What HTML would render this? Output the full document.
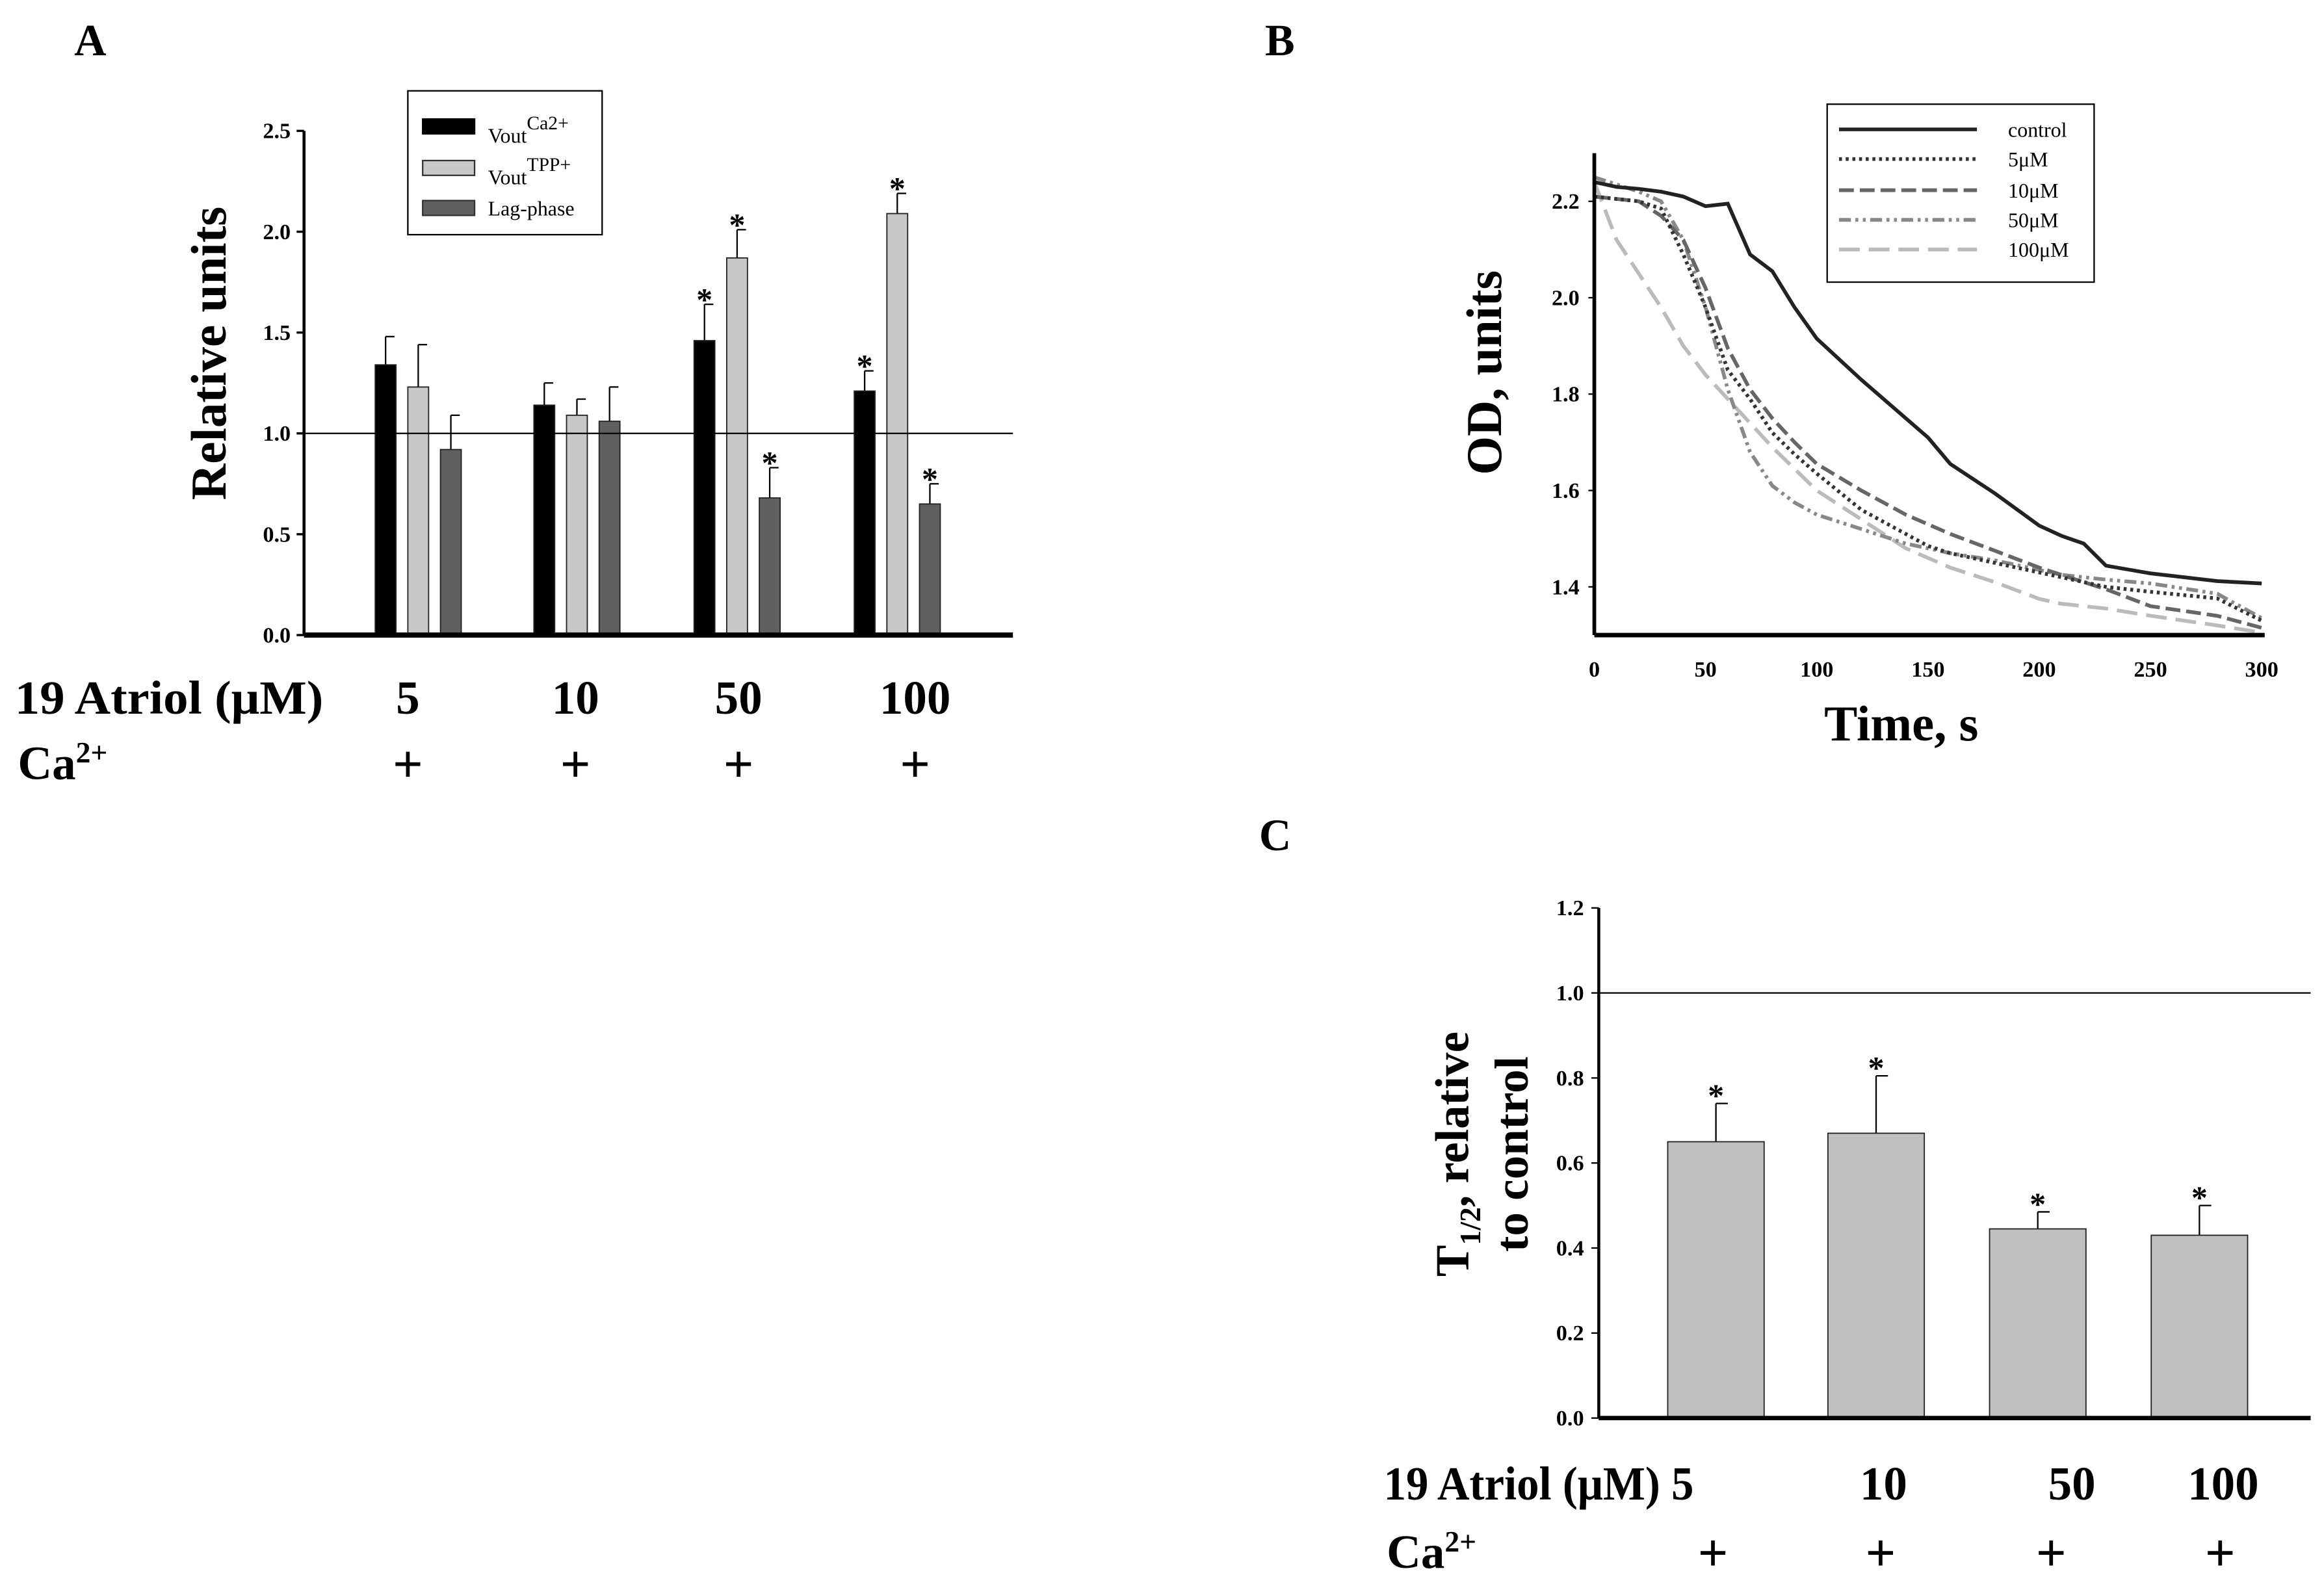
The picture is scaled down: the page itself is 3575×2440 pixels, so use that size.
<!DOCTYPE html>
<html><head><meta charset="utf-8"><style>
html,body{margin:0;padding:0;background:#fff}
svg{display:block;font-family:"Liberation Serif",serif}
</style></head><body>
<svg id="fig" width="3575" height="2440" viewBox="0 0 1567 1069" xmlns="http://www.w3.org/2000/svg">
<g id="A">
<text x="50" y="37" font-size="30" font-weight="bold">A</text>
<text transform="translate(152,238) rotate(-90)" text-anchor="middle" font-size="34" font-weight="bold" textLength="198" lengthAdjust="spacingAndGlyphs">Relative units</text>
<g id="aPlot"></g>
<g>
<rect x="275" y="61" width="131" height="97" fill="#fff" stroke="#000" stroke-width="1"/>
<rect x="285" y="80" width="35" height="10" fill="#000" stroke="#000"/>
<text x="329" y="96" font-size="14">Vout<tspan dy="-9" font-size="13">Ca2+</tspan></text>
<rect x="285" y="108" width="35" height="10" fill="#c8c8c8" stroke="#333"/>
<text x="329" y="124" font-size="14">Vout<tspan dy="-9" font-size="13">TPP+</tspan></text>
<rect x="285" y="135" width="35" height="10" fill="#606060" stroke="#333"/>
<text x="329" y="145" font-size="14">Lag-phase</text>
</g>
<g font-size="32" font-weight="bold">
<text x="10" y="481" textLength="208" lengthAdjust="spacingAndGlyphs">19 Atriol (μM)</text>
<text x="12" y="525">Ca<tspan dy="-11" font-size="20">2+</tspan></text>
</g>
</g>
<g id="B">
<text x="853" y="37" font-size="30" font-weight="bold">B</text>
<text transform="translate(1012,251) rotate(-90)" text-anchor="middle" font-size="34" font-weight="bold" textLength="138" lengthAdjust="spacingAndGlyphs">OD, units</text>
<text x="1282" y="499" text-anchor="middle" font-size="34" font-weight="bold" textLength="104" lengthAdjust="spacingAndGlyphs">Time, s</text>
<g id="bPlot"></g>
<g>
<rect x="1232" y="70" width="180" height="120" fill="#fff" stroke="#000"/>
<line x1="1240" x2="1333" y1="87" y2="87" stroke="#222" stroke-width="2.5"/>
<text x="1354" y="92" font-size="14">control</text>
<line x1="1240" x2="1333" y1="107" y2="107" stroke="#333" stroke-width="2.5" stroke-dasharray="2,2.5"/>
<text x="1354" y="112" font-size="14">5μM</text>
<line x1="1240" x2="1333" y1="128" y2="128" stroke="#666" stroke-width="2.5" stroke-dasharray="10,4"/>
<text x="1354" y="133" font-size="14">10μM</text>
<line x1="1240" x2="1333" y1="148" y2="148" stroke="#888" stroke-width="2.5" stroke-dasharray="8,3,2,3,2,3"/>
<text x="1354" y="153" font-size="14">50μM</text>
<line x1="1240" x2="1333" y1="168" y2="168" stroke="#bbb" stroke-width="2.5" stroke-dasharray="14,6"/>
<text x="1354" y="173" font-size="14">100μM</text>
</g>
</g>
<g id="C">
<text x="849" y="573" font-size="30" font-weight="bold">C</text>
<text transform="translate(990,778) rotate(-90)" text-anchor="middle" font-size="32" font-weight="bold">T<tspan dy="8" font-size="20">1/2</tspan><tspan dy="-8">, relative</tspan></text>
<text transform="translate(1030,778) rotate(-90)" text-anchor="middle" font-size="32" font-weight="bold">to control</text>
<g id="cPlot"></g>
<g font-size="32" font-weight="bold">
<text x="933" y="1011" textLength="209" lengthAdjust="spacingAndGlyphs">19 Atriol (μM) 5</text>
<text x="935" y="1057">Ca<tspan dy="-11" font-size="20">2+</tspan></text>
</g>
</g>
</svg>
<script>
const NS="http://www.w3.org/2000/svg";
// ---- Panel A data
const aCategories=["5","10","50","100"];
const aVoutCa=[1.34,1.14,1.46,1.21];
const aVoutCaErr=[0.14,0.11,0.18,0.10];
const aVoutTPP=[1.23,1.09,1.87,2.09];
const aVoutTPPErr=[0.21,0.08,0.14,0.10];
const aLag=[0.92,1.06,0.68,0.65];
const aLagErr=[0.17,0.17,0.15,0.10];
const aSigCa=[false,false,true,true];
const aSigTPP=[false,false,true,true];
const aSigLag=[false,false,true,true];
const aTicks=["0.0","0.5","1.0","1.5","2.0","2.5"];
// ---- Panel B data
const bTime=[0,10,20,30,40,50,60,70,80,90,100,120,140,150,160,180,200,210,220,230,250,280,300];
const bControl=[2.24,2.23,2.226,2.22,2.21,2.19,2.195,2.09,2.055,1.98,1.915,1.83,1.75,1.71,1.655,1.594,1.527,1.506,1.49,1.444,1.428,1.412,1.407];
const b5=[2.21,2.205,2.2,2.185,2.09,1.98,1.85,1.79,1.72,1.675,1.635,1.56,1.51,1.485,1.47,1.45,1.43,1.42,1.41,1.40,1.39,1.376,1.33];
const b10=[2.21,2.205,2.2,2.17,2.12,2.02,1.895,1.81,1.75,1.70,1.655,1.60,1.55,1.53,1.51,1.475,1.44,1.425,1.41,1.395,1.36,1.34,1.315];
const b50=[2.25,2.235,2.22,2.2,2.12,1.98,1.81,1.68,1.61,1.575,1.55,1.52,1.49,1.48,1.47,1.455,1.435,1.425,1.42,1.415,1.407,1.386,1.335];
const b100=[2.24,2.12,2.05,1.98,1.9,1.84,1.79,1.74,1.69,1.645,1.6,1.54,1.48,1.46,1.44,1.41,1.375,1.365,1.36,1.355,1.34,1.32,1.305];
const bXTicks=["0","50","100","150","200","250","300"];
const bYTicks=["1.4","1.6","1.8","2.0","2.2"];
// ---- Panel C data
const cCategories=["5","10","50","100"];
const cValues=[0.65,0.67,0.445,0.43];
const cErr=[0.09,0.135,0.04,0.07];
const cTicks=["0.0","0.2","0.4","0.6","0.8","1.0","1.2"];

function mk(tag,attrs,parent){const e=document.createElementNS(NS,tag);for(const k in attrs)e.setAttribute(k,attrs[k]);parent.appendChild(e);return e;}
function txt(parent,x,y,s,size,anchor){const t=mk("text",{x:x,y:y,"font-size":size,"font-weight":"bold","text-anchor":anchor},parent);t.textContent=s;return t;}

// ---- Panel A
(function(){
const g=document.getElementById("aPlot");
const x0=205,x1=683,yb=428,yt=88;
const ya=v=>yb-(v/2.5)*(yb-yt);
const groupX=[282,389,497,605];
const offs=[-22,0,22], bw=14;
const series=[[aVoutCa,aVoutCaErr,aSigCa,"#000","vout-ca"],[aVoutTPP,aVoutTPPErr,aSigTPP,"#c8c8c8","vout-tpp"],[aLag,aLagErr,aSigLag,"#606060","lag-phase"]];
aTicks.forEach(t=>{const y=ya(parseFloat(t));
 const l=mk("line",{x1:x0-5,x2:x0,y1:y,y2:y,stroke:"#000","stroke-width":1.5},g);
 
 
 const tt=txt(g,x0-9,y+5,t,15,"end");
 
 });
series.forEach((s,si)=>{s[0].forEach((v,i)=>{
 const cx=groupX[i]+offs[si];
 const ey=ya(v+s[1][i]);
 const el=mk("line",{x1:cx,x2:cx,y1:ey,y2:ya(v),stroke:"#000","stroke-width":1},g);
 
 
 const cap=mk("line",{x1:cx,x2:cx+6,y1:ey,y2:ey,stroke:"#000","stroke-width":1},g);
 
 
 const r=mk("rect",{x:cx-bw/2,y:ya(v),width:bw,height:yb-ya(v),fill:s[3],stroke:"#222","stroke-width":0.8},g);
 
 
 if(s[2][i]){const st=mk("text",{x:cx,y:ey+4,"font-size":22,"font-weight":"bold","text-anchor":"middle"},g);st.textContent="*";
 
 }
});});
const ref=mk("line",{x1:x0,x2:x1,y1:ya(1),y2:ya(1),stroke:"#000","stroke-width":1},g);


const ax=mk("line",{x1:x0,x2:x0,y1:yt,y2:yb,stroke:"#000","stroke-width":2},g);


const xa=mk("line",{x1:x0,x2:x1,y1:yb,y2:yb,stroke:"#000","stroke-width":3.5},g);


const lx=[275,388,498,617];
aCategories.forEach((c,i)=>{const t=txt(g,lx[i],481,c,32,"middle");
 
 
 const p=txt(g,lx[i],527,"+",36,"middle");
 
 });
})();

// ---- Panel B
(function(){
const g=document.getElementById("bPlot");
const x0=1075,x1=1527,yb=428,yt=103;
const xs=t=>x0+t/300*(1525-x0);
const ys=v=>yb-(v-1.3)/1.0*(yb-yt);
bXTicks.forEach(t=>{const x=xs(+t);const tt=txt(g,x,456,t,15,"middle");
 
 });
bYTicks.forEach(t=>{const y=ys(+t);
 const l=mk("line",{x1:x0-4,x2:x0,y1:y,y2:y,stroke:"#000"},g);
 
 
 const tt=txt(g,x0-10,y+5,t,15,"end");
 
 });
const lines=[[b100,"#bbb","14,6","line-100uM"],[b50,"#888","8,3,2,3,2,3","line-50uM"],[b10,"#666","10,4","line-10uM"],[b5,"#333","2,2.5","line-5uM"],[bControl,"#222","","line-control"]];
lines.forEach(L=>{const d=L[0].map((v,i)=>(i?"L":"M")+xs(bTime[i]).toFixed(1)+","+ys(v).toFixed(1)).join(" ");
 const p=mk("path",{d:d,fill:"none",stroke:L[1],"stroke-width":2.5,"stroke-dasharray":L[2]||"none"},g);
 
 });
const ay=mk("line",{x1:x0,x2:x0,y1:yt,y2:yb,stroke:"#000","stroke-width":2.5},g);


const axx=mk("line",{x1:x0,x2:x1,y1:yb,y2:yb,stroke:"#000","stroke-width":3},g);


})();

// ---- Panel C
(function(){
const g=document.getElementById("cPlot");
const x0=1078,x1=1558,yb=956,yt=612;
const ys=v=>yb-v/1.2*(yb-yt);
const centers=[1157,1265,1374,1483], bw=65;
cTicks.forEach(t=>{const y=ys(+t);
 const l=mk("line",{x1:x0-5,x2:x0,y1:y,y2:y,stroke:"#000"},g);
 
 
 const tt=txt(g,x0-10,y+5,t,15,"end");
 
 });
cValues.forEach((v,i)=>{const cx=centers[i];const ey=ys(v+cErr[i]);
 const el=mk("line",{x1:cx,x2:cx,y1:ey,y2:ys(v),stroke:"#000"},g);
 
 
 const cap=mk("line",{x1:cx,x2:cx+8,y1:ey,y2:ey,stroke:"#000"},g);
 
 
 const r=mk("rect",{x:cx-bw/2,y:ys(v),width:bw,height:yb-ys(v),fill:"#c0c0c0",stroke:"#222","stroke-width":0.8},g);
 
 
 const st=mk("text",{x:cx,y:ey+2,"font-size":22,"font-weight":"bold","text-anchor":"middle"},g);st.textContent="*";
 
 });
const ref=mk("line",{x1:x0,x2:x1,y1:ys(1),y2:ys(1),stroke:"#000","stroke-width":1},g);


const ay=mk("line",{x1:x0,x2:x0,y1:yt,y2:yb,stroke:"#000","stroke-width":2},g);


const axx=mk("line",{x1:x0,x2:x1,y1:yb,y2:yb,stroke:"#000","stroke-width":3},g);


const lx=[1160,1270,1397,1499];
cCategories.forEach((c,i)=>{if(i>0){const t=txt(g,lx[i],1011,c,32,"middle");
 
 }
 const p=txt(g,[1155,1268,1383,1497][i],1059,"+",36,"middle");
 
 });
})();
</script>
</body></html>
